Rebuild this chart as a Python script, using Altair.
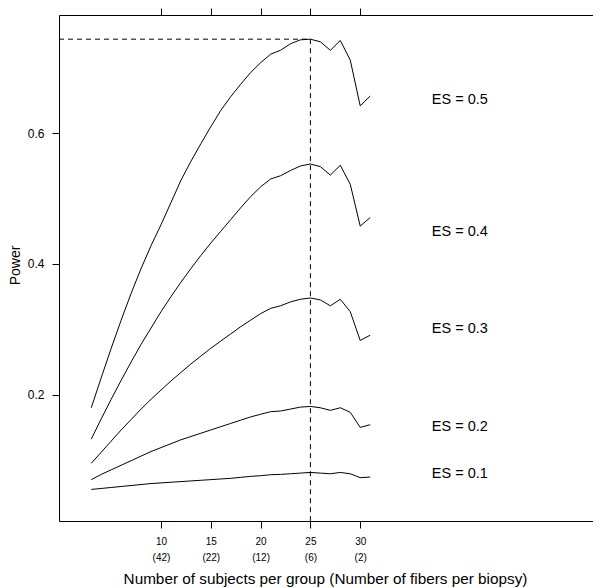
import altair as alt
import pandas as pd

# ---- data ----
subjects = list(range(3, 32))
fiber_ticks = [10, 15, 20, 25, 30]
fiber_labels = ["(42)", "(22)", "(12)", "(6)", "(2)"]
y_ticks = [0.2, 0.4, 0.6]

power_es01 = [0.055, 0.0565, 0.058, 0.0595, 0.061, 0.0625, 0.064, 0.065, 0.066, 0.067,
              0.068, 0.069, 0.070, 0.071, 0.072, 0.0735, 0.075, 0.076, 0.0775, 0.078,
              0.079, 0.080, 0.081, 0.080, 0.079, 0.081, 0.079, 0.073, 0.074]
power_es02 = [0.070, 0.078, 0.085, 0.092, 0.099, 0.106, 0.113, 0.119, 0.125, 0.131,
              0.136, 0.141, 0.146, 0.151, 0.156, 0.161, 0.166, 0.170, 0.174, 0.175,
              0.178, 0.181, 0.182, 0.180, 0.176, 0.180, 0.173, 0.150, 0.154]
power_es03 = [0.095, 0.112, 0.129, 0.146, 0.162, 0.178, 0.193, 0.207, 0.221, 0.234,
              0.247, 0.259, 0.271, 0.282, 0.293, 0.304, 0.314, 0.324, 0.332, 0.336,
              0.342, 0.346, 0.348, 0.345, 0.336, 0.346, 0.327, 0.283, 0.291]
power_es04 = [0.132, 0.163, 0.193, 0.222, 0.250, 0.277, 0.302, 0.327, 0.350, 0.372,
              0.393, 0.413, 0.432, 0.450, 0.468, 0.486, 0.503, 0.518, 0.530, 0.535,
              0.543, 0.550, 0.553, 0.549, 0.536, 0.551, 0.522, 0.458, 0.471]
power_es05 = [0.180, 0.226, 0.271, 0.314, 0.355, 0.393, 0.428, 0.460, 0.494, 0.528,
              0.557, 0.584, 0.610, 0.635, 0.656, 0.675, 0.693, 0.708, 0.721, 0.727,
              0.737, 0.743, 0.744, 0.740, 0.727, 0.742, 0.712, 0.642, 0.657]

es_names = ["ES = 0.1", "ES = 0.2", "ES = 0.3", "ES = 0.4", "ES = 0.5"]
es_series = [power_es01, power_es02, power_es03, power_es04, power_es05]
label_x = [40, 40, 40, 40, 40]
label_y = [0.078, 0.150, 0.300, 0.449, 0.651]

x_domain = [-0.24, 53.37]
y_domain = [0.0067, 0.781]

FONT = "Liberation Sans"

rows = []
for name, vals in zip(es_names, es_series):
    for n, p in zip(subjects, vals):
        rows.append({"n": n, "power": p, "es": name})
df = pd.DataFrame(rows)

peak_i = max(range(len(power_es05)), key=lambda i: power_es05[i])
peak_df = pd.DataFrame({"x0": [x_domain[0]], "x": [subjects[peak_i]],
                        "y": [power_es05[peak_i]], "y0": [y_domain[0]]})
label_df = pd.DataFrame({"x": label_x, "y": label_y, "label": es_names})

xs = alt.Scale(domain=x_domain, nice=False, zero=False)
ys = alt.Scale(domain=y_domain, nice=False, zero=False)

label_expr = " : ".join(
    [f"datum.value == {v} ? ['{v}', '{l}']" for v, l in zip(fiber_ticks, fiber_labels)]
) + " : datum.label"

lines = alt.Chart(df).mark_line(color="black", strokeWidth=1).encode(
    x=alt.X("n:Q", scale=xs,
            axis=alt.Axis(orient="bottom", values=fiber_ticks, labelExpr=label_expr,
                          title="Number of subjects per group (Number of fibers per biopsy)",
                          titleFontSize=15.3, titleFontWeight="normal", titleFont=FONT,
                          titleX=266, titleY=62, titleAlign="center",
                          titleBaseline="alphabetic",
                          labelFontSize=10, labelFont=FONT, labelLineHeight=16,
                          labelPadding=8, labelBaseline="top",
                          tickSize=7, tickColor="black", labelColor="black",
                          titleColor="black", grid=False, domain=False)),
    y=alt.Y("power:Q", scale=ys,
            axis=alt.Axis(orient="left", values=y_ticks, format=".1f",
                          title="Power", titleFontSize=14, titleFontWeight="normal",
                          titleFont=FONT, titleX=-40, titleY=250, titleAngle=-90,
                          titleAlign="center", titleBaseline="alphabetic",
                          labelFontSize=12, labelFont=FONT, labelPadding=8,
                          tickSize=7, tickColor="black", labelColor="black",
                          titleColor="black", grid=False, domain=False)),
    detail="es:N",
)

frame_ticks = alt.Chart(df).mark_line(opacity=0).encode(
    x=alt.X("n:Q", scale=xs,
            axis=alt.Axis(orient="top", values=fiber_ticks, labels=False, title=None,
                          tickSize=7, tickColor="black", grid=False, domain=False)),
    y=alt.Y("power:Q", scale=ys,
            axis=alt.Axis(orient="right", values=y_ticks, labels=False, title=None,
                          tickSize=7, tickColor="black", grid=False, domain=False)),
    detail="es:N",
)

hline = alt.Chart(peak_df).mark_rule(color="black", strokeDash=[5, 4], strokeWidth=1).encode(
    x=alt.X("x0:Q", scale=xs, axis=None),
    x2="x:Q",
    y=alt.Y("y:Q", scale=ys, axis=None),
)
vline = alt.Chart(peak_df).mark_rule(color="black", strokeDash=[5, 4], strokeWidth=1).encode(
    x=alt.X("x:Q", scale=xs, axis=None),
    y=alt.Y("y:Q", scale=ys, axis=None),
    y2="y0:Q",
)

labels = alt.Chart(label_df).mark_text(fontSize=14.5, font=FONT, color="black",
                                       align="center", baseline="middle").encode(
    x=alt.X("x:Q", scale=xs, axis=None),
    y=alt.Y("y:Q", scale=ys, axis=None),
    text="label:N",
)

chart = alt.layer(lines, frame_ticks, hline, vline, labels).resolve_axis(
    x="independent", y="independent"
).properties(
    width=534, height=506,
    padding={"left": 51, "top": 7, "right": 0, "bottom": 73},
    autosize=alt.AutoSizeParams(type="none"),
    background="white",
).configure_view(stroke="black", strokeWidth=1)

chart.save("out.html", embed_options={"renderer": "svg", "actions": False})
